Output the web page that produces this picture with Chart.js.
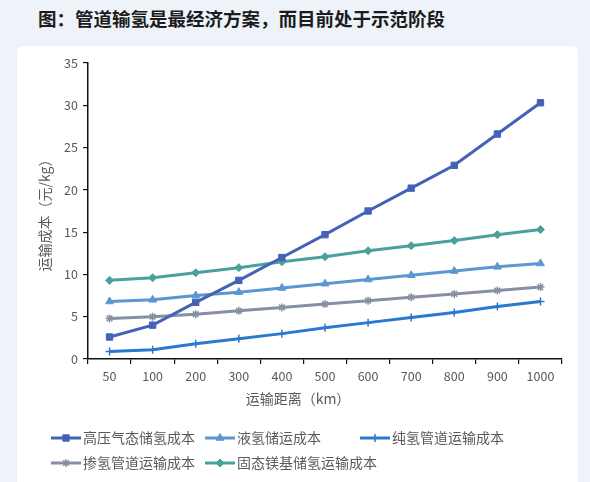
<!DOCTYPE html>
<html>
<head>
<meta charset="utf-8">
<script src="https://cdn.jsdelivr.net/npm/chart.js@4.4.1/dist/chart.umd.min.js"></script>
<style>
  html, body { margin: 0; padding: 0; }
  body { width: 590px; height: 482px; background: #eef2f9; position: relative; overflow: hidden; font-family: "Noto Sans CJK SC", sans-serif; }
  .title { position: absolute; left: 38px; top: 5px; font-size: 18.5px; font-weight: 700; color: #1c1c1c; }
  .card { position: absolute; left: 17px; top: 46px; width: 561px; height: 450px; background: #fff; border-radius: 6px; }
  #wrap { position: absolute; left: 0; top: 0; width: 590px; height: 482px; }
</style>
</head>
<body>
<div class="title">图：管道输氢是最经济方案，而目前处于示范阶段</div>
<div class="card"></div>
<div id="wrap"><canvas id="costChart" width="590" height="482"></canvas></div>
<script>
// transport distance (km)
const distances = ['50', '100', '200', '300', '400', '500', '600', '700', '800', '900', '1000'];

// cost, 元/kg
const highPressureGas = [2.6, 4.0, 6.7, 9.3, 12.0, 14.7, 17.5, 20.2, 22.9, 26.6, 30.3];
const liquidHydrogen = [6.8, 7.0, 7.5, 7.9, 8.4, 8.9, 9.4, 9.9, 10.4, 10.9, 11.3];
const pureH2Pipeline = [0.9, 1.1, 1.8, 2.4, 3.0, 3.7, 4.3, 4.9, 5.5, 6.2, 6.8];
const blendedPipeline = [4.8, 5.0, 5.3, 5.7, 6.1, 6.5, 6.9, 7.3, 7.7, 8.1, 8.5];
const solidMgBased = [9.3, 9.6, 10.2, 10.8, 11.5, 12.1, 12.8, 13.4, 14.0, 14.7, 15.3];

const seriesNames = ['高压气态储氢成本', '液氢储运成本', '纯氢管道运输成本', '掺氢管道运输成本', '固态镁基储氢运输成本'];
const yTicks = [0, 5, 10, 15, 20, 25, 30, 35];

const labelColor = '#595959';
const axisColor = '#111';

function series(label, data, color, pointStyle, radius) {
    return {
        label: label,
        data: data,
        borderColor: color,
        backgroundColor: color,
        borderWidth: 3,
        pointStyle: pointStyle,
        pointRadius: radius,
        pointBorderWidth: pointStyle === 'cross' || pointStyle === 'star' ? 1.5 : 1,
        pointBorderColor: color,
        pointBackgroundColor: color,
        tension: 0,
    };
}

// draws axis titles and the two-row legend the way the original report lays them out
const extrasPlugin = {
    id: 'extras',
    afterDraw(chart) {
        const ctx = chart.ctx;
        ctx.save();
        ctx.fillStyle = labelColor;
        ctx.font = '14px "Noto Sans CJK SC"';
        ctx.textAlign = 'center';
        ctx.textBaseline = 'middle';
        ctx.fillText('运输距离（km）', 298, 399);

        ctx.translate(45, 212);
        ctx.rotate(-Math.PI / 2);
        ctx.fillText('运输成本（元/kg）', 0, 0);
        ctx.restore();

        const slots = [[51, 438], [205, 438], [360, 438], [51, 463], [205, 463]];
        ctx.save();
        ctx.font = '14px "Noto Sans CJK SC"';
        ctx.textBaseline = 'middle';
        chart.data.datasets.forEach((ds, i) => {
            const [x, y] = slots[i];
            ctx.strokeStyle = ds.borderColor;
            ctx.lineWidth = 3;
            ctx.beginPath();
            ctx.moveTo(x, y);
            ctx.lineTo(x + 30, y);
            ctx.stroke();
            ctx.fillStyle = ds.backgroundColor;
            ctx.lineWidth = ds.pointBorderWidth;
            Chart.helpers.drawPoint(ctx, { pointStyle: ds.pointStyle, radius: ds.pointRadius, borderWidth: ds.pointBorderWidth }, x + 15, y);
            ctx.fillStyle = labelColor;
            ctx.textAlign = 'left';
            ctx.fillText(ds.label, x + 32, y);
        });
        ctx.restore();
    }
};

new Chart(document.getElementById('costChart').getContext('2d'), {
    type: 'line',
    data: {
        labels: distances,
        datasets: [
            series(seriesNames[0], highPressureGas, '#4462b8', 'rect', 4.5),
            series(seriesNames[1], liquidHydrogen, '#5b97d0', 'triangle', 4.5),
            series(seriesNames[2], pureH2Pipeline, '#2b78cf', 'cross', 4),
            series(seriesNames[3], blendedPipeline, '#868fa3', 'star', 4),
            series(seriesNames[4], solidMgBased, '#4aa19c', 'rectRot', 4),
        ],
    },
    options: {
        responsive: false,
        animation: false,
        layout: { padding: { top: 63, right: 28, left: 0, bottom: 71 } },
        plugins: {
            legend: { display: false },
            tooltip: { enabled: false },
        },
        scales: {
            x: {
                offset: true,
                afterFit: (scale) => { scale.height = 52; },
                grid: { offset: true, drawOnChartArea: false, tickLength: 5, color: axisColor, lineWidth: 1.2 },
                border: { color: axisColor, width: 1.5 },
                ticks: { color: labelColor, font: { size: 12.5, family: '"Noto Sans CJK SC"' }, padding: 5, maxRotation: 0 },
            },
            y: {
                min: 0,
                max: 35,
                afterFit: (scale) => { scale.width = 88; },
                afterBuildTicks: (scale) => { scale.ticks = yTicks.map(v => ({ value: v })); },
                grid: { drawOnChartArea: false, tickLength: 5, color: axisColor, lineWidth: 1.2 },
                border: { color: axisColor, width: 1.5 },
                ticks: { color: labelColor, font: { size: 12.5, family: '"Noto Sans CJK SC"' }, padding: 5 },
            },
        },
    },
    plugins: [extrasPlugin],
});
</script>
</body>
</html>
